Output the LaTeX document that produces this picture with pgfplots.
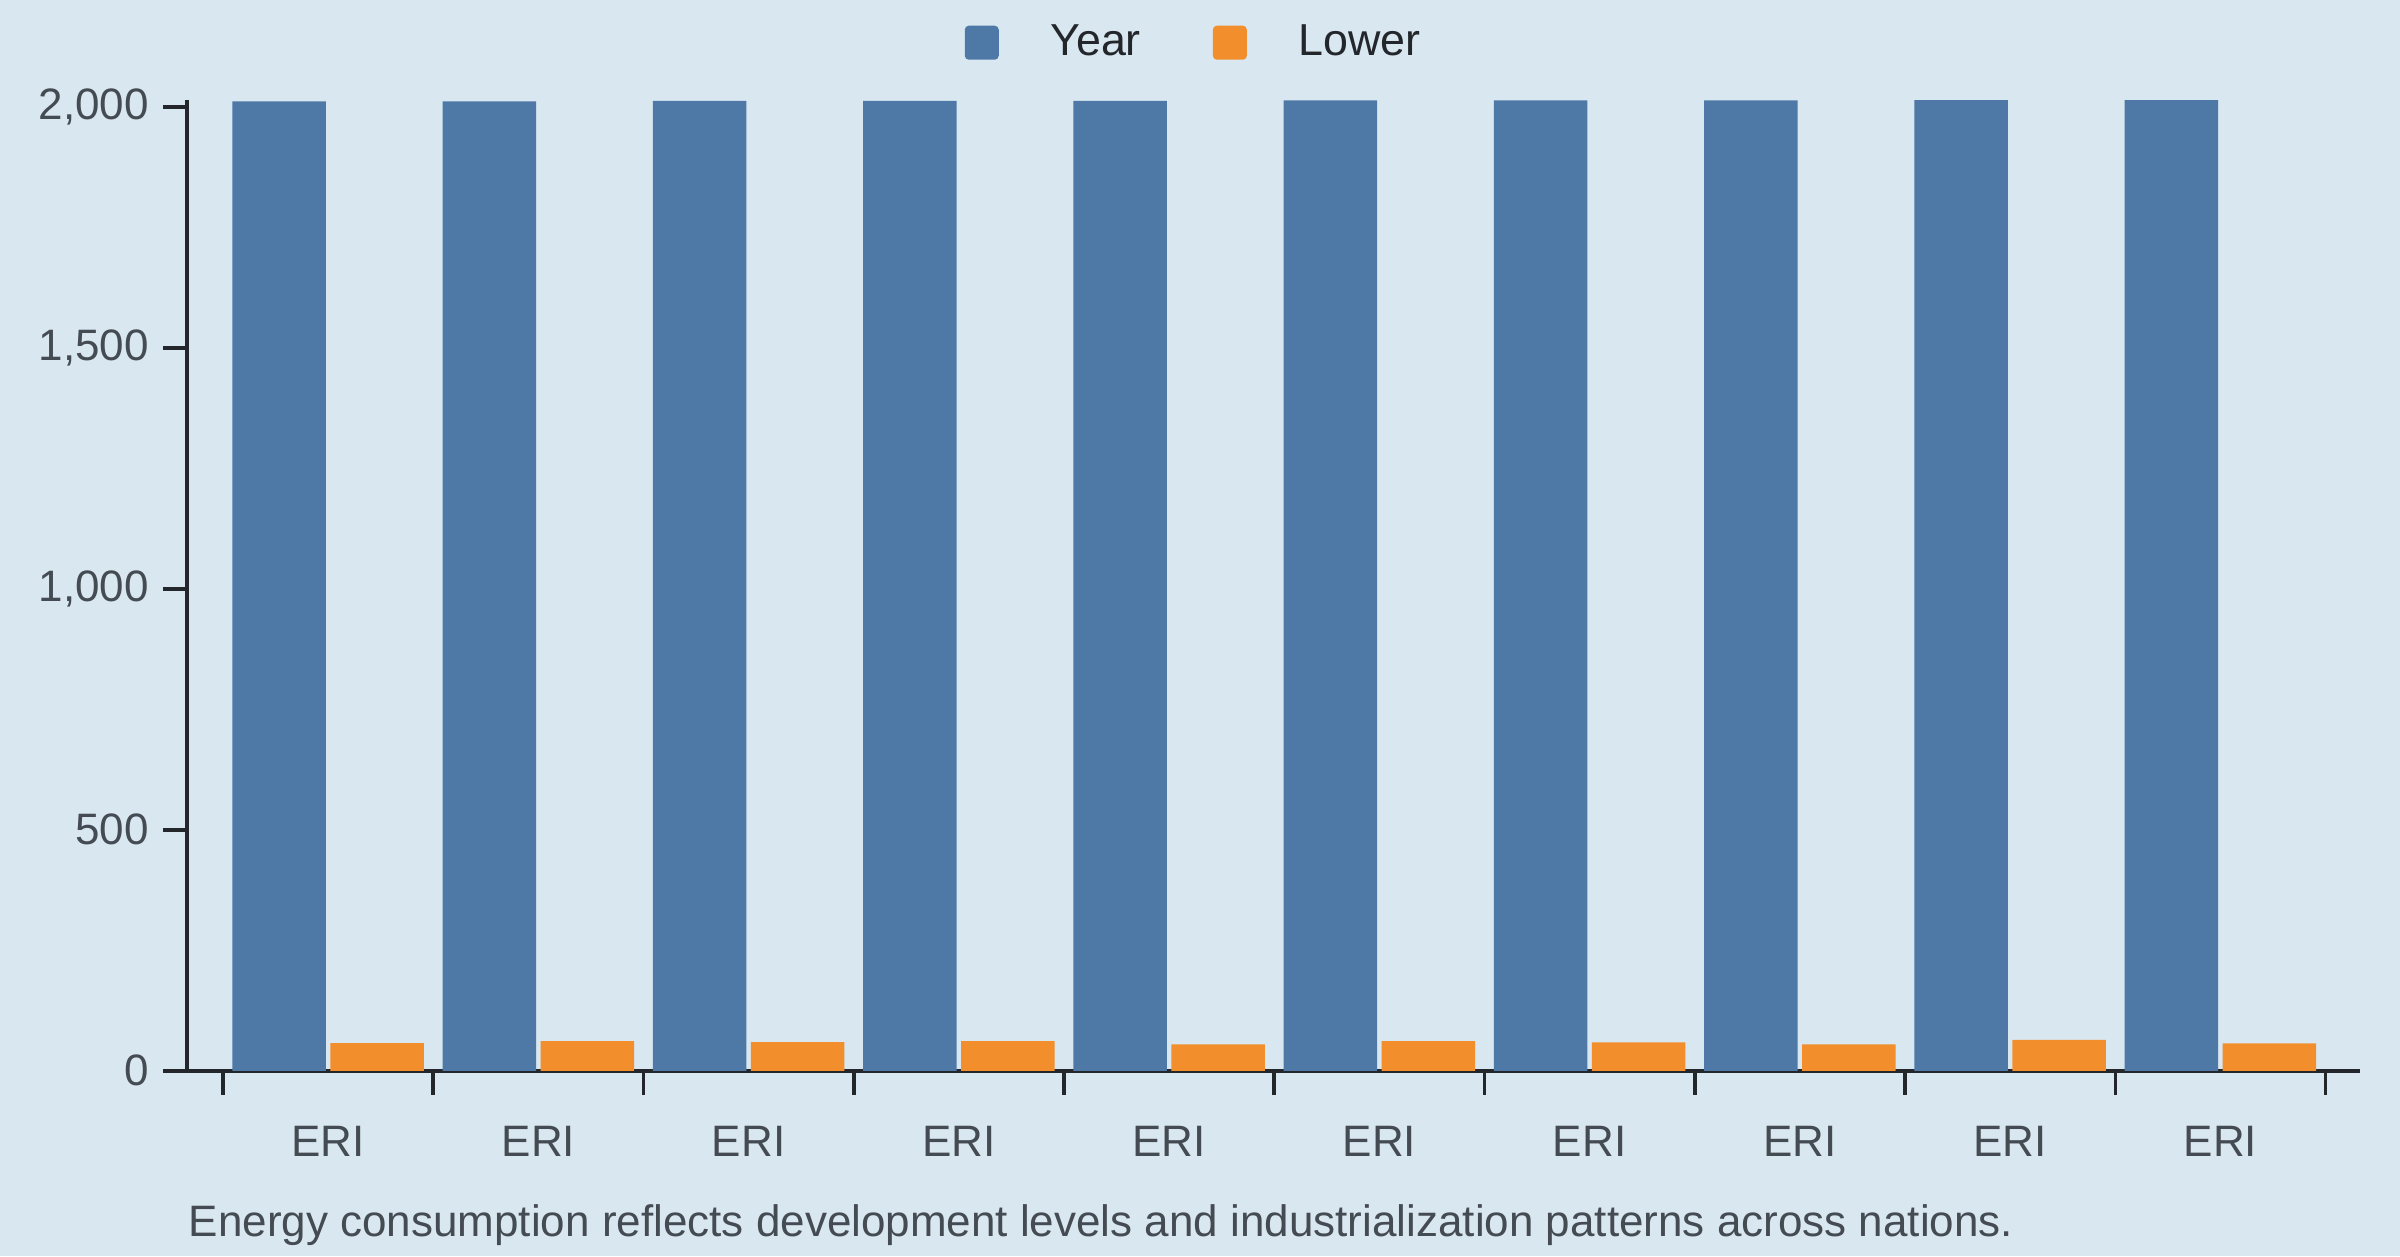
\documentclass[border=0pt]{standalone}
\usepackage{pgfplots}
\pgfplotsset{compat=1.18}
\usepackage{fontspec}
\setmainfont{Liberation Sans}
\definecolor{bg}{HTML}{D9E7F0}
\definecolor{cblue}{HTML}{4E79A7}
\definecolor{corange}{HTML}{F28E2B}
\definecolor{axc}{HTML}{23272B}
\definecolor{txt}{HTML}{454B52}
\begin{document}
\begin{tikzpicture}
\fill[bg] (0,0) rectangle (600pt,314pt);
\path[use as bounding box] (0,0) rectangle (600pt,314pt);
\begin{axis}[
  at={(46.75pt,46.3pt)}, anchor=south west,
  scale only axis, width=543.15pt, height=242.7pt,
  xmin=-0.671, xmax=9.662, ymin=0, ymax=2014,
  axis x line*=bottom, axis y line*=left,
  axis line style={line width=0.9pt, color=axc},
  ybar=1.1pt, bar width=23.4pt,
  xtick={0,...,9},
  xticklabels={ERI,ERI,ERI,ERI,ERI,ERI,ERI,ERI,ERI,ERI},
  minor xtick={-0.5,0.5,...,9.5},
  ytick={0,500,1000,1500,2000},
  tick align=outside,
  major tick length=6pt, minor tick length=6pt,
  major x tick style={draw=none},
  every tick/.style={line width=0.9pt, color=axc},
  minor tick style={line width=0.9pt, color=axc},
  tick label style={font=\fontsize{11}{13}\selectfont, color=txt},
  xticklabel style={yshift=-4.4pt},
  /pgf/number format/assume math mode=true,
  /pgf/number format/1000 sep={,},
  scaled y ticks=false,
  clip=false,
  legend columns=2,
  legend style={at={(0.4647,1.059)}, anchor=center, draw=none, fill=none,
    font=\fontsize{11.2}{13}\selectfont, text=axc,
    /tikz/every odd column/.append style={column sep=10.9pt},
    /tikz/every even column/.append style={column sep=16pt}},
  legend image code/.code={\fill[#1, rounded corners=1pt] (0pt,-4.25pt) rectangle (8.5pt,4.25pt);},
]
\addplot[fill=cblue, draw=none] coordinates {(0,2011) (1,2011) (2,2012) (3,2012) (4,2012) (5,2013) (6,2013) (7,2013) (8,2014) (9,2014)};
\addplot[fill=corange, draw=none] coordinates {(0,57.5) (1,61.5) (2,59.5) (3,61.5) (4,55) (5,61.5) (6,59) (7,55) (8,64) (9,57)};
\legend{Year, Lower}
\end{axis}
\node[anchor=west, inner sep=0pt, text=txt, font=\fontsize{11}{13}\selectfont] at (47pt,7.7pt) {Energy consumption reflects development levels and industrialization patterns across nations.};
\end{tikzpicture}
\end{document}
